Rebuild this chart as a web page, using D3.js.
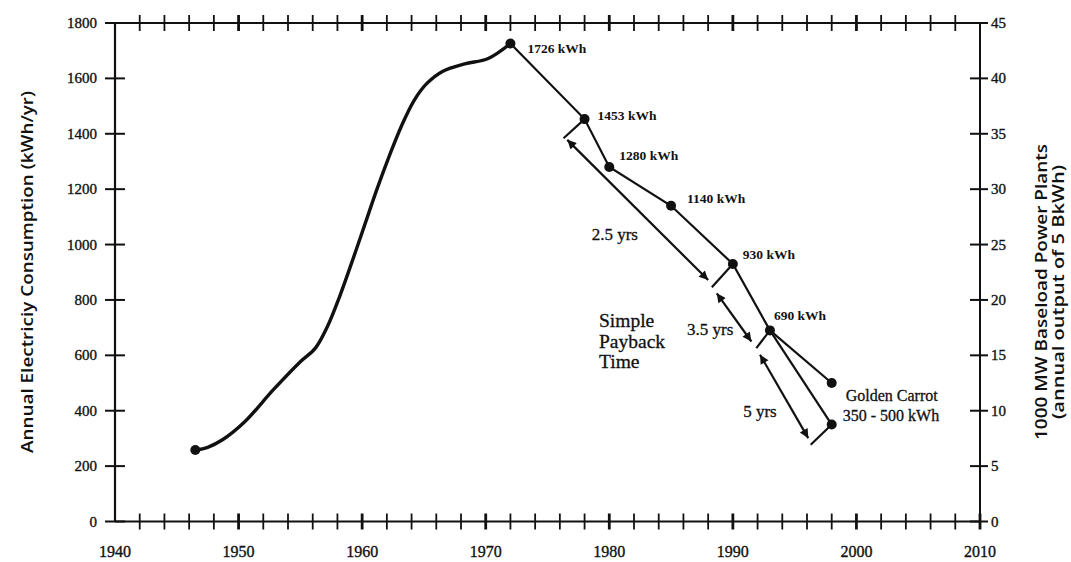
<!DOCTYPE html>
<html>
<head>
<meta charset="utf-8">
<script src="https://cdn.jsdelivr.net/npm/d3@7"></script>
<style>
  html, body { margin: 0; padding: 0; background: #fff; }
  svg { display: block; }
  .num { font-family: "Liberation Serif", serif; font-size: 15px; fill: #111; stroke: #111; stroke-width: 0.35px; }
  .xnum { font-size: 16px; }
  .lab { font-family: "Liberation Serif", serif; font-size: 13.5px; font-weight: bold; fill: #111; }
  .ann { font-family: "Liberation Serif", serif; font-size: 16px; fill: #111; stroke: #111; stroke-width: 0.3px; }
  .title { font-family: "Open Sans", "Lato", sans-serif; font-size: 16px; font-weight: 600; fill: #111; }
</style>
</head>
<body>
<svg id="chart" width="1071" height="562"></svg>
<script>
// ---------- data ----------
const xTickYears = d3.range(1940, 2011, 2);
const xLabelYears = [1940, 1950, 1960, 1970, 1980, 1990, 2000, 2010];
const yLeftTicks = [0, 200, 400, 600, 800, 1000, 1200, 1400, 1600, 1800];
const yRightTicks = [0, 5, 10, 15, 20, 25, 30, 35, 40, 45];

// historical consumption curve (hand-drawn)
const curveYears  = [1946.5, 1947.5, 1948.7, 1950.5, 1952.8, 1955, 1956.2, 1957.2, 1958.2, 1959.2, 1960.2, 1961.2, 1962.2, 1963.2, 1964.2, 1965.2, 1966.5, 1968.3, 1970.2, 1972];
const curveValues = [258, 268, 295, 360, 475, 577, 625, 705, 815, 940, 1070, 1200, 1320, 1430, 1520, 1580, 1625, 1652, 1672, 1726];

// standards path
const stdYears  = [1972, 1978, 1980, 1985, 1990, 1993];
const stdValues = [1726, 1453, 1280, 1140, 930, 690];
const stdLabels = ["1726 kWh", "1453 kWh", "1280 kWh", "1140 kWh", "930 kWh", "690 kWh"];

// golden carrot branches
const carrotYears  = [1998, 1998];
const carrotValues = [500, 350];
const carrotLabels = ["Golden Carrot", "350 - 500 kWh"];

// payback brackets (from dot toward lower-left)
const bracketFrom = [[1978, 1453], [1990, 930], [1993, 690], [1998, 350]];
const bracketTo   = [[1976.3, 1384], [1988.3, 846], [1991.9, 626], [1996.3, 277]];

// double-headed payback arrows
const arrowFrom = [[1976.6, 1378], [1988.7, 824], [1992.2, 602]];
const arrowTo   = [[1988.0, 872], [1991.5, 650], [1996.1, 301]];
const arrowLabels = ["2.5 yrs", "3.5 yrs", "5 yrs"];

const leftTitle = "Annual Electriciy Consumption (kWh/yr)";
const rightTitle1 = "1000 MW Baseload Power Plants";
const rightTitle2 = "(annual output of 5 BkWh)";
const noteLines = ["Simple", "Payback", "Time"];

// ---------- layout ----------
const svg = d3.select("#chart");
const L = 115, R = 980, T = 23, B = 521.5;
const x = d3.scaleLinear().domain([1940, 2010]).range([L, R]);
const y = d3.scaleLinear().domain([0, 1800]).range([B, T]);
const y2 = d3.scaleLinear().domain([0, 45]).range([B, T]);

const defs = svg.append("defs");
["s", "e"].forEach(k => {
  defs.append("marker")
    .attr("id", "arr-" + k)
    .attr("viewBox", "0 0 10 10")
    .attr("refX", 10).attr("refY", 5)
    .attr("markerWidth", 15).attr("markerHeight", 9)
    .attr("markerUnits", "userSpaceOnUse")
    .attr("orient", k === "e" ? "auto" : "auto-start-reverse")
    .append("path").attr("d", "M0,0 L10,5 L0,10 Z").attr("fill", "#111");
});

// frame lines
const g = svg.append("g").attr("stroke", "#111").attr("fill", "none");
g.append("line").attr("x1", L).attr("x2", R).attr("y1", B).attr("y2", B).attr("stroke-width", 2);
g.append("line").attr("x1", L).attr("x2", R).attr("y1", T).attr("y2", T).attr("stroke-width", 2);
g.append("line").attr("x1", L).attr("x2", L).attr("y1", T).attr("y2", B).attr("stroke-width", 2.2);
g.append("line").attr("x1", R).attr("x2", R).attr("y1", T).attr("y2", B).attr("stroke-width", 2);

// x ticks (cross ticks), top and bottom
[B, T].forEach(yy => {
  g.selectAll(null).data(xTickYears.filter(d => d > 1940 && !(yy === T && d === 2010)))
    .join("line")
    .attr("x1", d => x(d)).attr("x2", d => x(d))
    .attr("y1", yy - 8).attr("y2", yy + 8)
    .attr("stroke-width", d => d % 10 === 0 ? 2.8 : 1.8);
});

// left ticks
g.selectAll(null).data(yLeftTicks).join("line")
  .attr("x1", L - 10).attr("x2", d => (d === 1800 ? L : L + 10))
  .attr("y1", d => y(d)).attr("y2", d => y(d)).attr("stroke-width", 2);
// right ticks
g.selectAll(null).data(yRightTicks).join("line")
  .attr("x1", d => (d === 45 ? R : R - 10)).attr("x2", R + 8)
  .attr("y1", d => y2(d)).attr("y2", d => y2(d)).attr("stroke-width", 2);

// tick labels
svg.selectAll(null).data(xLabelYears).join("text").attr("class", "num xnum")
  .attr("x", d => x(d)).attr("y", 557).attr("text-anchor", "middle").text(d => d);
svg.selectAll(null).data(yLeftTicks).join("text").attr("class", "num")
  .attr("x", L - 18).attr("y", d => y(d) + 5).attr("text-anchor", "end").text(d => d);
svg.selectAll(null).data(yRightTicks).join("text").attr("class", "num")
  .attr("x", R + 11).attr("y", d => y2(d) + 5).attr("text-anchor", "start").text(d => d);

// axis titles
svg.append("text").attr("class", "title")
  .attr("transform", `translate(33,272) rotate(-90)`)
  .attr("text-anchor", "middle")
  .attr("textLength", 362).attr("lengthAdjust", "spacingAndGlyphs")
  .text(leftTitle);
svg.append("text").attr("class", "title")
  .attr("transform", `translate(1047,292) rotate(-90)`)
  .attr("text-anchor", "middle")
  .attr("textLength", 296).attr("lengthAdjust", "spacingAndGlyphs")
  .text(rightTitle1);
svg.append("text").attr("class", "title")
  .attr("transform", `translate(1064,292) rotate(-90)`)
  .attr("text-anchor", "middle")
  .attr("textLength", 254).attr("lengthAdjust", "spacingAndGlyphs")
  .text(rightTitle2);

// historical curve
const curvePts = curveYears.map((d, i) => [x(d), y(curveValues[i])]);
svg.append("path").datum(curvePts)
  .attr("d", d3.line().curve(d3.curveCatmullRom.alpha(0.5)))
  .attr("fill", "none").attr("stroke", "#111").attr("stroke-width", 3.4)
  .attr("stroke-linecap", "round");
svg.append("circle").attr("cx", x(curveYears[0])).attr("cy", y(curveValues[0])).attr("r", 5).attr("fill", "#111");

// standards line
const stdPts = stdYears.map((d, i) => [x(d), y(stdValues[i])]);
svg.append("path").datum(stdPts).attr("d", d3.line())
  .attr("fill", "none").attr("stroke", "#111").attr("stroke-width", 2.2);
const last = stdPts[stdPts.length - 1];
carrotYears.forEach((cy, i) => {
  svg.append("line").attr("x1", last[0]).attr("y1", last[1])
    .attr("x2", x(cy)).attr("y2", y(carrotValues[i]))
    .attr("stroke", "#111").attr("stroke-width", 2.2);
});
svg.selectAll(null).data(stdPts.concat(carrotYears.map((c, i) => [x(c), y(carrotValues[i])])))
  .join("circle").attr("cx", d => d[0]).attr("cy", d => d[1]).attr("r", 5).attr("fill", "#111");

// data labels
const labOff = [[17, 10], [13, 1], [10, -7], [16, -3], [10, -5], [4, -10]];
svg.selectAll(null).data(stdPts).join("text").attr("class", "lab")
  .attr("x", (d, i) => d[0] + labOff[i][0]).attr("y", (d, i) => d[1] + labOff[i][1])
  .text((d, i) => stdLabels[i]);
svg.append("text").attr("class", "ann").attr("x", x(carrotYears[0]) + 14).attr("y", y(carrotValues[0]) + 18).text(carrotLabels[0]);
svg.append("text").attr("class", "ann").attr("x", x(carrotYears[1]) + 11).attr("y", y(carrotValues[1]) - 4).text(carrotLabels[1]);

// brackets
bracketFrom.forEach((f, i) => {
  svg.append("line").attr("x1", x(f[0])).attr("y1", y(f[1]))
    .attr("x2", x(bracketTo[i][0])).attr("y2", y(bracketTo[i][1]))
    .attr("stroke", "#111").attr("stroke-width", 2.2);
});
// arrows
arrowFrom.forEach((f, i) => {
  svg.append("line").attr("x1", x(f[0])).attr("y1", y(f[1]))
    .attr("x2", x(arrowTo[i][0])).attr("y2", y(arrowTo[i][1]))
    .attr("stroke", "#111").attr("stroke-width", 2.2)
    .attr("marker-start", "url(#arr-s)").attr("marker-end", "url(#arr-e)");
});
const arrLabPos = [[-46, 30], [-47, 18], [-41, 21]];
arrowFrom.forEach((f, i) => {
  const mx = (x(f[0]) + x(arrowTo[i][0])) / 2, my = (y(f[1]) + y(arrowTo[i][1])) / 2;
  svg.append("text").attr("class", "ann").style("font-size", "17px")
    .attr("x", mx + arrLabPos[i][0]).attr("y", my + arrLabPos[i][1]).text(arrowLabels[i]);
});

// note
svg.append("text").attr("class", "ann").style("font-size", "19.5px")
  .selectAll("tspan").data(noteLines).join("tspan")
  .attr("x", 599).attr("y", (d, i) => 327 + i * 20.5).text(d => d);
</script>
</body>
</html>
